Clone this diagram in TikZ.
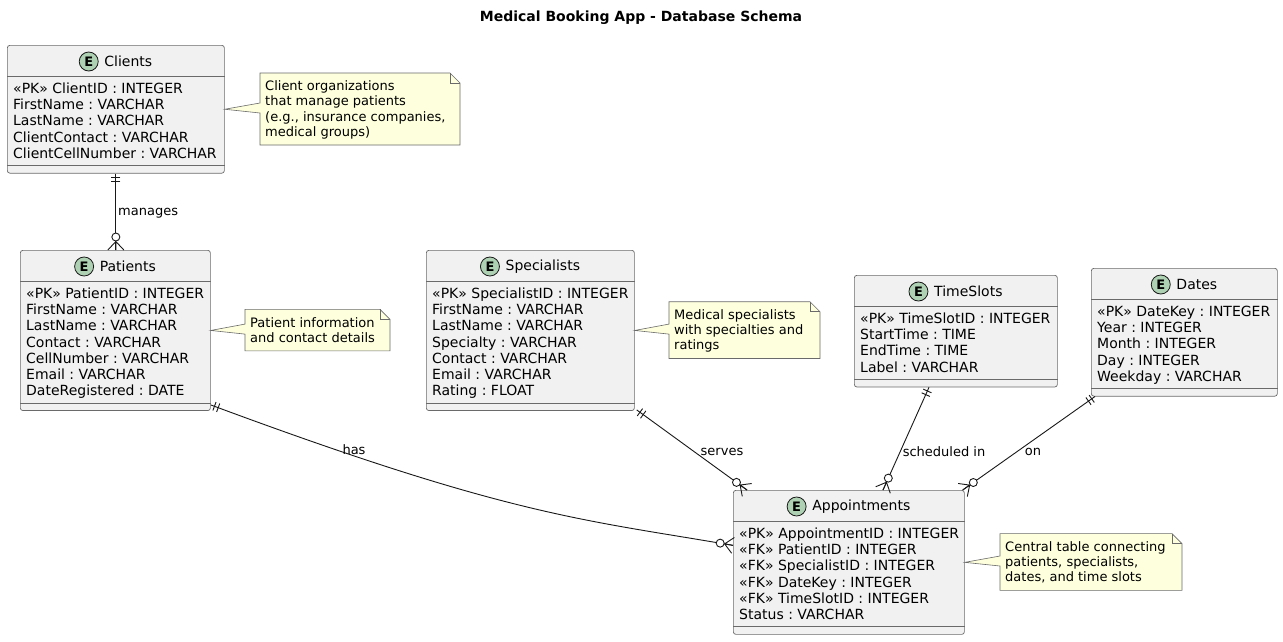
\documentclass[tikz,border=0pt]{standalone}
\usepackage{fontspec}
\setmainfont{DejaVu Sans}
\usetikzlibrary{calc}
\definecolor{entfill}{HTML}{F1F1F1}
\definecolor{ink}{HTML}{181818}
\definecolor{edge}{HTML}{6A6A6A}
\definecolor{spotc}{HTML}{ADD1B2}
\definecolor{notefill}{HTML}{FEFFDD}
\frenchspacing
\tikzset{
 entbox/.style={draw=edge, fill=entfill, line width=0.7pt, rounded corners=2.5pt, inner sep=0pt},
 entline/.style={draw=edge, line width=0.7pt},
 enttitle/.style={font=\fontsize{14}{16}\selectfont\frenchspacing, inner sep=0pt, text=black},
 spot/.style={circle, draw=ink, fill=spotc, line width=0.8pt, minimum size=19pt, inner sep=0pt, font=\fontsize{13}{13}\selectfont\bfseries},
 attrs/.style={font=\fontsize{14}{16.2}\selectfont\frenchspacing, align=left, inner sep=0pt, anchor=north west},
 notebody/.style={draw=edge, fill=notefill, line width=0.6pt},
 notetext/.style={font=\fontsize{13}{15.3}\selectfont\frenchspacing, align=left, inner sep=0pt, anchor=north west},
 rel/.style={draw=ink, line width=0.9pt},
 rellabel/.style={font=\fontsize{13}{15}\selectfont, inner sep=0pt},
 titletext/.style={font=\fontsize{14}{16}\selectfont\bfseries, inner sep=0pt},
}
\newcommand\entity[7]{%
 \pgfmathsetmacro\eh{63+(#5-1)*16.2}%
 \node[entbox, minimum width=#4pt, minimum height=\eh pt, anchor=north west] (#1) at (#2,#3) {};
 \draw[entline] ([yshift=-31pt]#1.north west) -- ([yshift=-31pt]#1.north east);
 \draw[entline] ([yshift=8pt]#1.south west) -- ([yshift=8pt]#1.south east);
 \node[enttitle] (#1-t) at ([yshift=-16.5pt]#1.north) {\hspace{25pt}#6};
 \node[spot] (#1-e) at ([xshift=9.5pt]#1-t.west) {E};
 \node[attrs] (#1-a) at ([xshift=6pt,yshift=-37.3pt]#1.north west) {\rule{0pt}{11pt}#7};
}
\newcommand\notebox[7]{%
 \pgfmathsetmacro\nh{10.8+15.3*#5}%
 \pgfmathsetmacro\nt{#7-\nh/2}%
 \pgfmathsetmacro\nb{#7+\nh/2}%
 \pgfmathsetmacro\nr{#3+#4}%
 \draw[notebody] (#3,\nt) -- (\nr-10,\nt) -- (\nr,\nt+10) -- (\nr,\nb) -- (#3,\nb) -- (#3,#7+4) -- (#2.east) -- (#3,#7-6) -- cycle;
 \draw[notebody, fill=none] (\nr-10,\nt) -- (\nr-10,\nt+10) -- (\nr,\nt+10);
 \node[notetext] (#1) at (#3+5,\nt+7.4) {\rule{0pt}{10pt}#6};
}
\newcommand\relmarks[4]{%
 \coordinate (t1) at ($(#1)!4pt!(#3)$);
 \coordinate (t2) at ($(#1)!8pt!(#3)$);
 \draw[rel] ($(t1)!4.5pt!90:(#3)$) -- ($(t1)!4.5pt!-90:(#3)$);
 \draw[rel] ($(t2)!4.5pt!90:(#3)$) -- ($(t2)!4.5pt!-90:(#3)$);
 \coordinate (ap) at ($(#2)!8.5pt!(#4)$);
 \draw[rel] (ap) -- (#2) (ap) -- ($(#2)!8pt!90:(#4)$) (ap) -- ($(#2)!8pt!-90:(#4)$);
 \draw[rel, fill=white] ($(#2)!13pt!(#4)$) circle (4pt);
}
\begin{document}
\begin{tikzpicture}[x=1pt,y=-1pt]
\useasboundingbox (0,0) rectangle (1283,641);
\fill[white] (0,0) rectangle (1283,641);
\node[titletext] (title) at (641,18) {Medical Booking App - Database Schema};

\entity{clients}{7}{45}{217}{5}{Clients}{«PK» ClientID : INTEGER\\FirstName : VARCHAR\\LastName : VARCHAR\\ClientContact : VARCHAR\\ClientCellNumber : VARCHAR}
\entity{patients}{20}{250}{190}{7}{Patients}{«PK» PatientID : INTEGER\\FirstName : VARCHAR\\LastName : VARCHAR\\Contact : VARCHAR\\CellNumber : VARCHAR\\Email : VARCHAR\\DateRegistered : DATE}
\entity{specialists}{426}{250}{208}{7}{Specialists}{«PK» SpecialistID : INTEGER\\FirstName : VARCHAR\\LastName : VARCHAR\\Specialty : VARCHAR\\Contact : VARCHAR\\Email : VARCHAR\\Rating : FLOAT}
\entity{timeslots}{854}{275}{203}{4}{TimeSlots}{«PK» TimeSlotID : INTEGER\\StartTime : TIME\\EndTime : TIME\\Label : VARCHAR}
\entity{dates}{1091}{268}{186}{5}{Dates}{«PK» DateKey : INTEGER\\Year : INTEGER\\Month : INTEGER\\Day : INTEGER\\Weekday : VARCHAR}
\entity{appointments}{733}{490}{231}{6}{Appointments}{«PK» AppointmentID : INTEGER\\«FK» PatientID : INTEGER\\«FK» SpecialistID : INTEGER\\«FK» DateKey : INTEGER\\«FK» TimeSlotID : INTEGER\\Status : VARCHAR}

\notebox{nclients}{clients}{260}{200}{4}{Client organizations\\that manage patients\\(e.g., insurance companies,\\medical groups)}{109}
\notebox{npatients}{patients}{245}{145}{2}{Patient information\\and contact details}{330.1}
\notebox{nspecialists}{specialists}{669}{151}{3}{Medical specialists\\with specialties and\\ratings}{330.1}
\notebox{nappointments}{appointments}{1000}{182}{3}{Central table connecting\\patients, specialists,\\dates, and time slots}{562}

% Clients -> Patients
\coordinate (cS) at (clients.south);
\coordinate (pN) at (clients.south |- patients.north);
\draw[rel] (cS) -- (pN);
\relmarks{cS}{pN}{pN}{cS}
\node[rellabel, anchor=west] (lmanages) at (118,213) {manages};

% Patients -> Appointments
\coordinate (pA) at ([yshift=6pt]patients.south east);
\coordinate (aP) at ([yshift=17pt]appointments.west);
\coordinate (k1) at (511,516.5);
\coordinate (k2) at (583,519.5);
\draw[rel] (pA) .. controls (k1) and (k2) .. (aP);
\relmarks{pA}{aP}{k1}{k2}
\node[rellabel] (lhas) at (354,450) {has};

% Specialists -> Appointments
\coordinate (sA) at ([xshift=2pt,yshift=1pt]specialists.south east);
\coordinate (aS) at ([xshift=14pt]appointments.north west);
\draw[rel] (sA) -- (aS);
\relmarks{sA}{aS}{aS}{sA}
\node[rellabel] (lserves) at (722,452) {serves};

% TimeSlots -> Appointments
\coordinate (tA) at ([xshift=75pt]timeslots.south west);
\coordinate (aT) at ([xshift=150pt]appointments.north west);
\draw[rel] (tA) -- (aT);
\relmarks{tA}{aT}{aT}{tA}
\node[rellabel] (lsched) at (944,452) {scheduled in};

% Dates -> Appointments
\coordinate (dA) at ([xshift=4pt]dates.south west);
\coordinate (aD) at ([xshift=-2pt]appointments.north east);
\draw[rel] (dA) -- (aD);
\relmarks{dA}{aD}{aD}{dA}
\node[rellabel] (lon) at (1033,452) {on};
\end{tikzpicture}
\end{document}
